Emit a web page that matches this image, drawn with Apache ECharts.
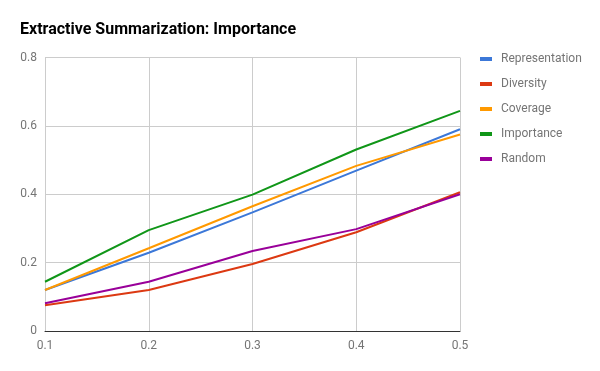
<!DOCTYPE html>
<html>
<head>
<meta charset="utf-8">
<script src="https://cdn.jsdelivr.net/npm/echarts@6/dist/echarts.min.js"></script>
<style>
  html, body { margin: 0; padding: 0; background: #fff; }
  #chart { width: 600px; height: 371px; }
</style>
</head>
<body>
<div id="chart"></div>
<script>
// ---- data ----
const xLabels = ['0.1', '0.2', '0.3', '0.4', '0.5']
const representation = [0.12, 0.229, 0.347, 0.469, 0.59]
const diversity = [0.075, 0.12, 0.196, 0.289, 0.406]
const coverage = [0.12, 0.242, 0.365, 0.483, 0.575]
const importance = [0.144, 0.295, 0.399, 0.531, 0.644]
const random = [0.081, 0.144, 0.234, 0.298, 0.4]

const seriesNames = ['Representation', 'Diversity', 'Coverage', 'Importance', 'Random']
const seriesData = [representation, diversity, coverage, importance, random]
const colors = ['#3c78d8', '#dc3912', '#ff9900', '#109618', '#990099']

const chart = echarts.init(document.getElementById('chart'))

chart.setOption({
  animation: false,
  color: colors,
  textStyle: { fontFamily: 'Roboto' },
  title: {
    text: 'Extractive Summarization: Importance',
    left: 15,
    top: 17,
    textStyle: { fontSize: 16, fontWeight: 'bold', color: '#000', fontFamily: 'Roboto' },
  },
  legend: {
    orient: 'vertical',
    left: 475,
    top: 48,
    itemGap: 13,
    itemWidth: 12,
    itemHeight: 4,
    icon: 'rect',
    data: seriesNames,
    textStyle: { color: '#757575', fontSize: 12, padding: [0, 0, 0, 4] },
  },
  grid: { left: 45, right: 140, top: 57.5, bottom: 40 },
  xAxis: {
    type: 'category',
    data: xLabels,
    boundaryGap: false,
    axisLine: { lineStyle: { color: '#333', width: 1 } },
    axisTick: { show: false },
    axisLabel: { color: '#757575', fontSize: 12, margin: 9 },
    splitLine: { show: true, lineStyle: { color: '#ccc' } },
  },
  yAxis: {
    type: 'value',
    min: 0,
    max: 0.8,
    interval: 0.2,
    axisLine: { show: false },
    axisTick: { show: false },
    axisLabel: { color: '#757575', fontSize: 12, margin: 8 },
    splitLine: { lineStyle: { color: '#ccc' } },
  },
  series: seriesNames.map((name, i) => ({
    name,
    type: 'line',
    data: seriesData[i],
    symbol: 'none',
    lineStyle: { width: 2 },
  })),
})
</script>
</body>
</html>
